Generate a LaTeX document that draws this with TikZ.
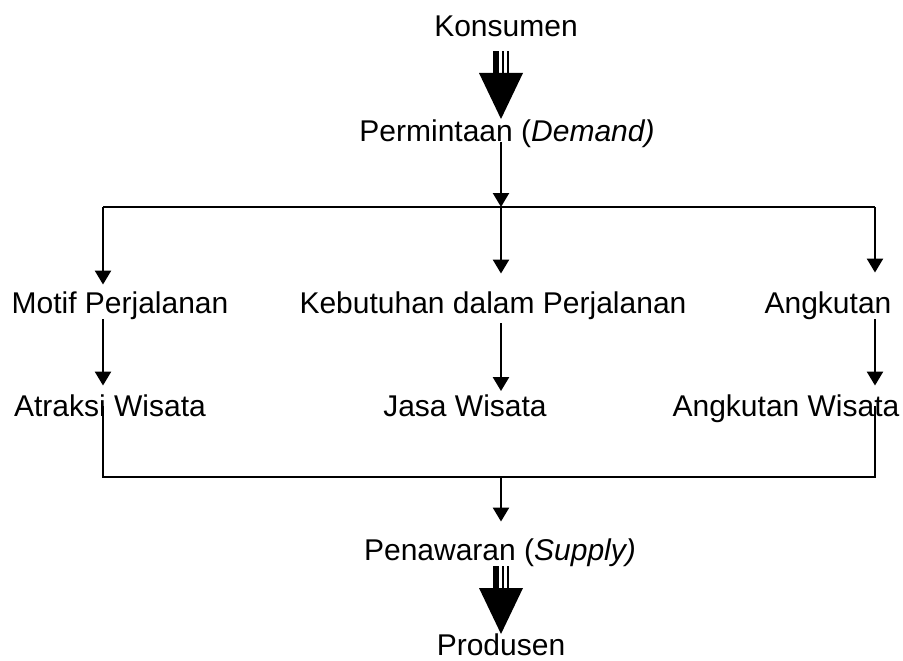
\documentclass[tikz,border=0pt]{standalone}
\usepackage{fontspec}
\setmainfont{Liberation Sans}
\usetikzlibrary{arrows.meta,calc}
\tikzset{
	lbl/.style={anchor=base,inner sep=0pt,font=\fontsize{30}{36}\selectfont},
	ln/.style={line width=2.4pt},
	arr/.style={ln,-{Triangle[width=16pt,length=14pt]}},
	bigarrow/.pic={
		\fill (-8,-22) rectangle (-2,0);
		\fill (1,-22) rectangle (3,0);
		\fill (6,-22) rectangle (8,0);
		\fill (-22,0) -- (22,0) -- (0,46) -- cycle;
	}
}
\begin{document}
\begin{tikzpicture}[x=1pt,y=-1pt]
	\useasboundingbox (0,0) rectangle (903,661);
	% texts
	\node[lbl] (kons) at (506,37) {Konsumen};
	\node[lbl] (perm) at (507,142) {Permintaan (\textit{Demand)}};
	\node[lbl] (motif) at (120,313) {Motif Perjalanan};
	\node[lbl] (butuh) at (493,313) {Kebutuhan dalam Perjalanan};
	\node[lbl] (angk) at (828,313) {Angkutan};
	\node[lbl] (atraksi) at (110,416) {Atraksi Wisata};
	\node[lbl] (jasa) at (465,416) {Jasa Wisata};
	\node[lbl] (angkw) at (786,416) {Angkutan Wisata};
	\node[lbl] (tawar) at (500,560) {Penawaran (\textit{Supply)}};
	\node[lbl] (prod) at (501,655) {Produsen};
	% junctions
	\coordinate (tL) at (103,207);
	\coordinate (tM) at (501,207);
	\coordinate (tR) at (875,207);
	\coordinate (bL) at (103,477);
	\coordinate (bM) at (501,477);
	\coordinate (bR) at (875,477);
	% big arrows
	\pic at ($(kons.base -| tM)+(0,36)$) {bigarrow};
	\pic at ($(tawar.base -| bM)+(0,28)$) {bigarrow};
	% demand side
	\draw[arr] (perm.base -| tM) -- (tM);
	\draw[ln] (tL) -- (tR);
	\draw[arr,shorten >=6.5pt] (tL) -- (tL |- motif.north);
	\draw[arr,shorten >=17.5pt] (tM) -- (tM |- butuh.north);
	\draw[arr,shorten >=18.5pt] (tR) -- (tR |- angk.north);
	\draw[arr,shorten >=8.5pt] (tL |- motif.south) -- (tL |- atraksi.north);
	\draw[arr,shorten <=4pt,shorten >=3pt] (tM |- butuh.south) -- (tM |- jasa.north);
	\draw[arr,shorten >=8.5pt] (tR |- angk.south) -- (tR |- angkw.north);
	% supply side
	\draw[ln] ($(atraksi.base -| bL)+(0,-10)$) -- (bL) -- (bR) -- ($(angkw.base -| bR)+(0,-10)$);
	\draw[arr,shorten >=16.5pt] (bM) -- (bM |- tawar.north);
\end{tikzpicture}
\end{document}
